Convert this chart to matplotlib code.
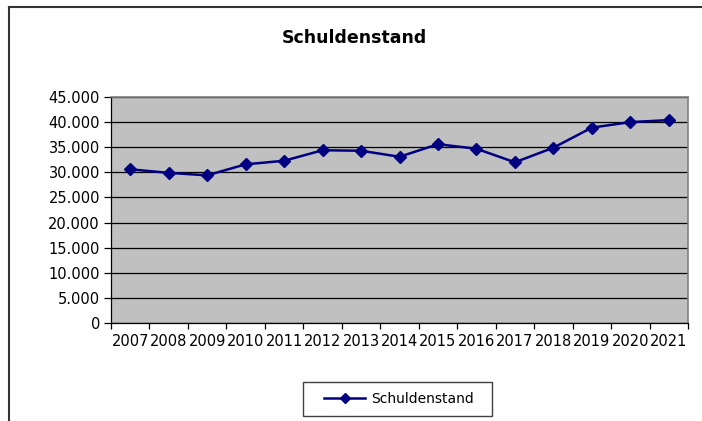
import matplotlib
matplotlib.use('Agg')
import matplotlib.pyplot as plt
from matplotlib.ticker import FuncFormatter, FixedLocator
from matplotlib.lines import Line2D
from matplotlib.patches import Rectangle

plt.rcParams['font.family'] = ['DejaVu Sans']

# data
years = ['2007', '2008', '2009', '2010', '2011', '2012', '2013', '2014',
         '2015', '2016', '2017', '2018', '2019', '2020', '2021']
schulden = [30600, 29900, 29400, 31600, 32300, 34400, 34300, 33100,
            35600, 34700, 32000, 34900, 38900, 40000, 40400]

fig = plt.figure(figsize=(7.02, 4.21), dpi=100)
ax = fig.add_axes([111 / 702, 98 / 421, 577 / 702, 226 / 421])

x = list(range(len(years)))
ax.set_facecolor('#C0C0C0')
ax.plot(x, schulden, color='#000080', lw=1.8, marker='D', markersize=6.5,
        label='Schuldenstand', zorder=3)

ax.set_xlim(-0.5, len(years) - 0.5)
ax.set_ylim(0, 45000)
ax.set_yticks(range(0, 45001, 5000))
ax.yaxis.set_major_formatter(FuncFormatter(lambda v, p: f'{int(v):,}'.replace(',', '.')))
ax.grid(axis='y', color='black', lw=0.9)
ax.set_axisbelow(True)

# tick marks between categories, labels at category centres
ax.xaxis.set_major_locator(FixedLocator([i - 0.5 for i in range(len(years) + 1)]))
ax.xaxis.set_major_formatter(FuncFormatter(lambda v, p: ''))
ax.xaxis.set_minor_locator(FixedLocator(x))
ax.set_xticklabels(years, minor=True)
ax.tick_params(axis='x', which='major', length=4, width=0.9, color='black')
ax.tick_params(axis='x', which='minor', length=0, labelsize=10.5, pad=8)
ax.tick_params(axis='y', length=5, width=0.9, labelsize=10.5, pad=3)

for s in ['top', 'right']:
    ax.spines[s].set_color('#808080')
    ax.spines[s].set_linewidth(1.2)
for s in ['left', 'bottom']:
    ax.spines[s].set_color('black')
    ax.spines[s].set_linewidth(0.9)

fig.text(354 / 702, 1 - 38 / 421, 'Schuldenstand', ha='center', va='center',
         fontsize=12.5, fontweight='bold')

# legend entry without its own frame, box drawn separately
leg = fig.legend(loc='center', bbox_to_anchor=(399 / 702, 1 - 399 / 421),
                 fontsize=10, frameon=False, handlelength=3.0,
                 handletextpad=0.45, borderaxespad=0)
leg.legend_handles[0].set_markersize(5)
fig.add_artist(Rectangle((303 / 702, 1 - 416 / 421), 189 / 702, 34 / 421,
                         transform=fig.transFigure, facecolor='none',
                         edgecolor='#404040', lw=1.0))

# outer chart frame (left and top edges visible)
fig.add_artist(Line2D([8.5 / 702, 8.5 / 702], [0, 1 - 6.5 / 421], color='#333333', lw=1.5))
fig.add_artist(Line2D([8.5 / 702, 1], [1 - 6.5 / 421, 1 - 6.5 / 421], color='#333333', lw=1.5))

fig.savefig('out.png', dpi=100)
